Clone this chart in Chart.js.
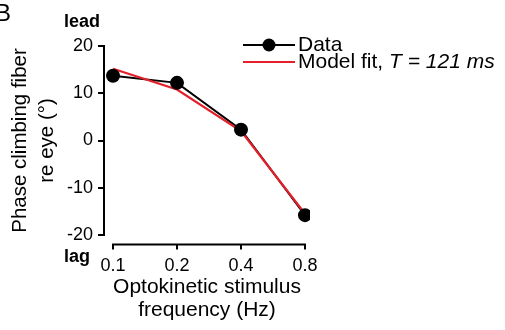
<!DOCTYPE html>
<html>
<head>
<meta charset="utf-8">
<script src="https://cdn.jsdelivr.net/npm/chart.js@4/dist/chart.umd.min.js"></script>
<style>
    html, body { margin: 0; padding: 0; background: #fff; }
    canvas { display: block; }
</style>
</head>
<body>
<canvas id="chartPhase" width="505" height="330"></canvas>
<script>
// stimulus frequencies (Hz) and how they are labelled on the x axis
const frequencies = [0.1, 0.2, 0.4, 0.8];
const frequencyLabels = ["0.1", "0.2", "0.4", "0.8"];

// phase of climbing fiber re eye (deg)
const phaseData = [13.7, 12.2, 2.3, -15.8];
const phaseModel = [15.2, 10.8, 2.0, -15.5];

const yTickValues = [-20, -10, 0, 10, 20];

const legendNames = ["Data", "Model fit, "];
const legendModelItalic = "T = 121 ms";

const FONT = "'Liberation Sans', Arial, Helvetica, sans-serif";
const RED = "#e3202a";

/**
 * @param {string} id
 * @returns {HTMLElement}
 */
function el(id) {
    return document.getElementById(id);
}

function toPoints(values) {
    return values.map((v, i) => ({ x: frequencies[i], y: v }));
}

// x axis sits a bit below the plot, only spanning the first to last tick
const detachedXAxis = {
    id: "detachedXAxis",
    afterDraw(chart) {
        const ctx = chart.ctx;
        const x = chart.scales.x;
        const y0 = chart.chartArea.bottom + 9.5;
        ctx.save();
        ctx.strokeStyle = "#000";
        ctx.lineWidth = 2;
        ctx.beginPath();
        ctx.moveTo(x.getPixelForValue(frequencies[0]) - 1, y0);
        ctx.lineTo(x.getPixelForValue(frequencies[frequencies.length - 1]) + 1, y0);
        for (const f of frequencies) {
            const px = x.getPixelForValue(f);
            ctx.moveTo(px, y0);
            ctx.lineTo(px, y0 + 5);
        }
        ctx.stroke();
        ctx.restore();
    }
};

// legend with a partly italic label, drawn by hand
const sideLegend = {
    id: "sideLegend",
    afterDraw(chart) {
        const ctx = chart.ctx;
        const x0 = 243, x1 = 295, tx = 298;
        const rows = [45, 62];
        ctx.save();
        ctx.lineWidth = 2;
        ctx.strokeStyle = "#000";
        ctx.beginPath();
        ctx.moveTo(x0, rows[0]);
        ctx.lineTo(x1, rows[0]);
        ctx.stroke();
        ctx.fillStyle = "#000";
        ctx.beginPath();
        ctx.arc((x0 + x1) / 2, rows[0], 6.5, 0, Math.PI * 2);
        ctx.fill();

        ctx.strokeStyle = RED;
        ctx.beginPath();
        ctx.moveTo(x0, rows[1]);
        ctx.lineTo(x1, rows[1]);
        ctx.stroke();

        ctx.textBaseline = "middle";
        ctx.textAlign = "left";
        ctx.font = `21px ${FONT}`;
        ctx.fillText(legendNames[0], tx, rows[0]);
        ctx.fillText(legendNames[1], tx, rows[1]);
        const w = ctx.measureText(legendNames[1]).width;
        ctx.font = `italic 21px ${FONT}`;
        ctx.fillText(legendModelItalic, tx + w, rows[1]);
        ctx.restore();
    }
};

// "lead" / "lag" marks and the panel letter
const sideNotes = {
    id: "sideNotes",
    afterDraw(chart) {
        const ctx = chart.ctx;
        ctx.save();
        ctx.fillStyle = "#000";
        ctx.textAlign = "center";
        ctx.textBaseline = "alphabetic";
        ctx.font = `bold 18px ${FONT}`;
        ctx.fillText("lead", 82, 27);
        ctx.fillText("lag", 77, 262);
        ctx.textAlign = "right";
        ctx.font = `24px ${FONT}`;
        ctx.fillText("B", 11, 21);
        ctx.restore();
    }
};

function loadPhaseChart() {
    Chart.defaults.color = "#000";
    Chart.defaults.font.family = FONT;

    new Chart(el("chartPhase"), {
        type: "line",
        data: {
            datasets: [
                {
                    label: "Data line",
                    data: toPoints(phaseData),
                    borderColor: "#000",
                    borderWidth: 2,
                    pointRadius: 0,
                    tension: 0,
                    order: 3
                },
                {
                    label: "Model fit",
                    data: toPoints(phaseModel),
                    borderColor: RED,
                    borderWidth: 2.2,
                    pointRadius: 0,
                    tension: 0,
                    order: 2
                },
                {
                    label: "Data",
                    data: toPoints(phaseData),
                    showLine: false,
                    pointRadius: 7,
                    pointBackgroundColor: "#000",
                    pointBorderColor: "#000",
                    pointBorderWidth: 0,
                    order: 1
                }
            ]
        },
        plugins: [detachedXAxis, sideLegend, sideNotes],
        options: {
            responsive: false,
            animation: false,
            layout: {
                padding: { top: 46, right: 195, left: 0, bottom: 0 }
            },
            plugins: {
                legend: { display: false },
                tooltip: { enabled: false }
            },
            scales: {
                x: {
                    type: "logarithmic",
                    min: 0.0907,
                    max: 0.8445,
                    afterBuildTicks: scale => {
                        scale.ticks = frequencies.map(v => ({ value: v }));
                    },
                    afterFit: scale => {
                        scale.height = 95;
                    },
                    grid: { display: false },
                    border: { display: false },
                    ticks: {
                        autoSkip: false,
                        maxRotation: 0,
                        padding: 12,
                        font: { size: 18 },
                        callback: value => frequencyLabels[frequencies.indexOf(value)]
                    },
                    title: {
                        display: true,
                        text: ["Optokinetic stimulus", "frequency (Hz)"],
                        font: { size: 21, lineHeight: 1.07 },
                        padding: { top: 0, bottom: 9 }
                    }
                },
                y: {
                    min: -20,
                    max: 20,
                    afterBuildTicks: scale => {
                        scale.ticks = yTickValues.map(v => ({ value: v }));
                    },
                    afterFit: scale => {
                        scale.width = 104;
                    },
                    grid: {
                        drawOnChartArea: false,
                        drawTicks: true,
                        tickLength: 6,
                        color: "#000",
                        lineWidth: 2
                    },
                    border: { display: true, color: "#000", width: 2 },
                    ticks: {
                        padding: 5,
                        font: { size: 18 }
                    },
                    title: {
                        display: true,
                        text: ["Phase climbing fiber", "re eye (°)"],
                        font: { size: 20.5, lineHeight: 1.3 },
                        padding: { top: 7, bottom: 0 }
                    }
                }
            }
        }
    });
}

(function () {
    loadPhaseChart();
})();
</script>
</body>
</html>
